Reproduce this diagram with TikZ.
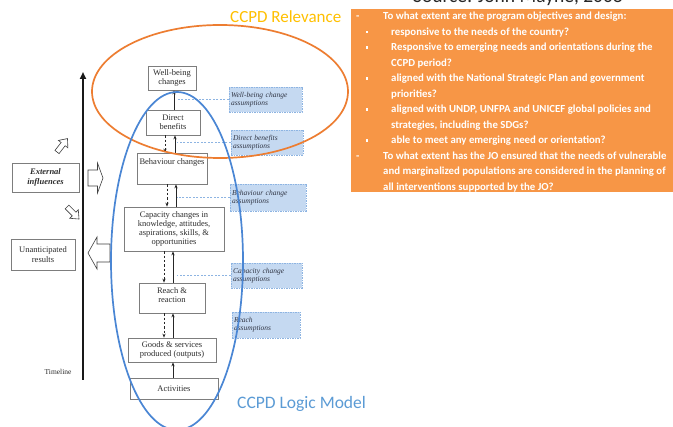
\documentclass[tikz,border=0pt]{standalone}
\usepackage{fontspec}
\setmainfont{Liberation Serif}
\newfontfamily\calfont{Carlito}
\usetikzlibrary{arrows.meta}
\definecolor{orbox}{RGB}{247,150,70}
\definecolor{orline}{RGB}{237,125,49}
\definecolor{blline}{RGB}{74,134,212}
\definecolor{relev}{RGB}{255,192,0}
\definecolor{logic}{RGB}{91,155,213}
\definecolor{asfill}{RGB}{197,217,241}
\definecolor{asline}{RGB}{141,180,226}
\definecolor{boxline}{RGB}{125,125,125}
\definecolor{txt}{RGB}{45,45,45}
\definecolor{astxt}{RGB}{50,55,70}
\begin{document}
\begin{tikzpicture}[x=1pt,y=-1pt,
  stage/.style={draw=boxline, line width=0.7pt, fill=white, text=txt, align=center,
    inner sep=1pt, font=\fontsize{8.5}{9.3}\selectfont},
  assum/.style={draw=asline, dash pattern=on 1.5pt off 1pt, line width=0.6pt, fill=asfill,
    text=astxt, align=left, inner sep=2pt, font=\itshape\fontsize{7.5}{8}\selectfont},
  upar/.style={-{Stealth[length=4pt,width=3.2pt]}, line width=0.8pt, black!85},
  downar/.style={upar, dash pattern=on 2.5pt off 1.8pt},
  conn/.style={asline, dash pattern=on 2pt off 1.5pt, line width=0.6pt},
  blk/.style={draw=black!75, fill=white, line width=0.6pt, line join=miter},
  qline/.style={anchor=base west, inner sep=0pt, text=white,
    font=\calfont\bfseries\fontsize{10.8}{12}\selectfont},
  blockarr/.pic={\draw[blk] (0,-2.6) -- (10,-2.6) -- (10,-6) -- (17,0) -- (10,6) -- (10,2.6) -- (0,2.6) -- cycle;}
]
\useasboundingbox (0,0) rectangle (673,427);
\fill[white] (0,0) rectangle (673,427);

% timeline
\coordinate (tl0) at (83,380);
\coordinate (tl1) at (83,72);
\draw[line width=2pt, black!90, -{Triangle[length=7pt,width=6pt]}] (tl0) -- (tl1);
\node[font=\fontsize{7.5}{8}\selectfont, text=txt, inner sep=0pt] (tlab) at (58,372) {Timeline};

% left side
\node[stage, minimum width=67pt, minimum height=29pt, font=\bfseries\itshape\fontsize{8.5}{9.5}\selectfont] (ext) at (45.5,177.5) {External\\influences};
\node[stage, minimum width=64pt, minimum height=31pt] (un) at (43,254.5) {Unanticipated\\results};
\draw[blk] (88,170) -- (97.5,170) -- (97.5,163) -- (103,178) -- (97.5,193) -- (97.5,186) -- (88,186) -- cycle;
\draw[blk] (110,244) -- (97,244) -- (97,237) -- (88,253) -- (97,269) -- (97,262) -- (110,262) -- cycle;
\pic[rotate=52] at (57,152) {blockarr};
\pic[rotate=-45] at (67,207) {blockarr};

% stages
\node[stage, minimum width=48pt, minimum height=24pt] (wb) at (172,78) {Well-being\\changes};
\node[stage, minimum width=54pt, minimum height=25pt] (db) at (173,122.5) {Direct\\benefits};
\node[stage, minimum width=70pt, text height=10pt, text depth=17pt, inner sep=2pt] (bc) at (172,168.5) {Behaviour changes};
\node[stage, minimum width=100pt, minimum height=44pt] (cc) at (174,229) {Capacity changes in\\knowledge, attitudes,\\aspirations, skills, \&\\opportunities};
\node[stage, minimum width=66pt, minimum height=30pt] (rr) at (172,298) {Reach \&\\reaction\\[-3pt]};
\node[stage, minimum width=88pt, minimum height=24pt] (gs) at (172,350) {Goods \& services\\produced (outputs)};
\node[stage, minimum width=88pt, minimum height=21pt] (ac) at (174,388.5) {Activities};

% arrows between stages
\draw[upar] ([xshift=1pt]db.north) -- ([xshift=2pt]wb.south);
\draw[downar] ([xshift=-8pt]db.south) -- ([xshift=-7pt]bc.north);
\draw[upar] ([xshift=3pt]bc.north) -- ([xshift=2pt]db.south);
\draw[downar] ([xshift=-5pt]bc.south) -- ([xshift=-7pt]cc.north);
\draw[upar] ([xshift=2pt]cc.north) -- ([xshift=4pt]bc.south);
\draw[downar] ([xshift=-10pt]cc.south) -- ([xshift=-8pt]rr.north);
\draw[upar] ([xshift=1pt]rr.north) -- ([xshift=-1pt]cc.south);
\draw[downar] ([xshift=-8pt]rr.south) -- ([xshift=-8pt]gs.north);
\draw[upar] ([xshift=1pt]gs.north) -- ([xshift=1pt]rr.south);
\draw[upar] ([xshift=-1pt]ac.north) -- ([xshift=1pt]gs.south);

% assumptions
\node[assum, text width=69pt, minimum height=25pt] (awb) at (265.5,99.5) {Well-being change\\assumptions};
\node[assum, text width=68pt, minimum height=25pt] (adb) at (267,142.5) {Direct benefits\\assumptions};
\node[assum, text width=72pt, minimum height=27pt] (abc) at (268,197.5) {Behaviour change\\assumptions};
\node[assum, text width=67pt, minimum height=25pt] (acc) at (266.5,275.5) {Capacity change\\assumptions};
\node[assum, text width=64pt, minimum height=26pt] (arr) at (266,325) {Reach\\assumptions};
\coordinate (cx) at (177,0);
\draw[conn] (awb.west) -- (awb.west -| cx);
\draw[conn] (adb.west) -- (adb.west -| cx);
\draw[conn] (abc.west) -- (abc.west -| cx);
\draw[conn] (acc.west) -- (acc.west -| cx);

% ellipses
\draw[orline, line width=1.7pt] (220,91.5) ellipse [x radius=128, y radius=66.5];
\draw[blline, line width=1.7pt] (177,261) ellipse [x radius=66, y radius=169];

% labels
\node[anchor=base west, inner sep=0pt, text=relev, font=\calfont\fontsize{17}{18}\selectfont] (rel) at (230,23) {CCPD Relevance};
\node[anchor=base west, inner sep=0pt, text=logic, font=\calfont\fontsize{17.5}{18}\selectfont] (lm) at (237,409) {CCPD Logic Model};
\begin{scope}
\clip (0,0) rectangle (673,427);
\node[anchor=base west, inner sep=0pt, text=black!85, font=\calfont\fontsize{19.5}{20}\selectfont] (src) at (413,2.5) {Source: John Mayne, 2008};
\end{scope}

% orange box
\node[fill=orbox, anchor=north west, minimum width=322pt, minimum height=183pt, inner sep=0pt] (ob) at (351,9) {};
\node[qline] (d1) at (356,20) {-};
\node[qline] (q1) at (383,20) {To what extent are the program objectives and design:};
\node[qline] (q2) at (391,35.5) {responsive to the needs of the country?};
\node[qline] (q3) at (391,51) {Responsive to emerging needs and orientations during the};
\node[qline] (q4) at (391,66.5) {CCPD period?};
\node[qline] (q5) at (391,82) {aligned with the National Strategic Plan and government};
\node[qline] (q6) at (391,97.5) {priorities?};
\node[qline] (q7) at (391,113) {aligned with UNDP, UNFPA and UNICEF global policies and};
\node[qline] (q8) at (391,128.5) {strategies, including the SDGs?};
\node[qline] (q9) at (391,144) {able to meet any emerging need or orientation?};
\node[qline] (d2) at (356,159.5) {-};
\node[qline] (q10) at (383,159.5) {To what extent has the JO ensured that the needs of vulnerable};
\node[qline] (q11) at (383,175) {and marginalized populations are considered in the planning of};
\node[qline] (q12) at (383,190.5) {all interventions supported by the JO?};
\foreach \yy in {35.5,51,82,113,144}{
  \fill[white] (366,\yy-4.6) rectangle (368.3,\yy-2.3);
}
\end{tikzpicture}
\end{document}
